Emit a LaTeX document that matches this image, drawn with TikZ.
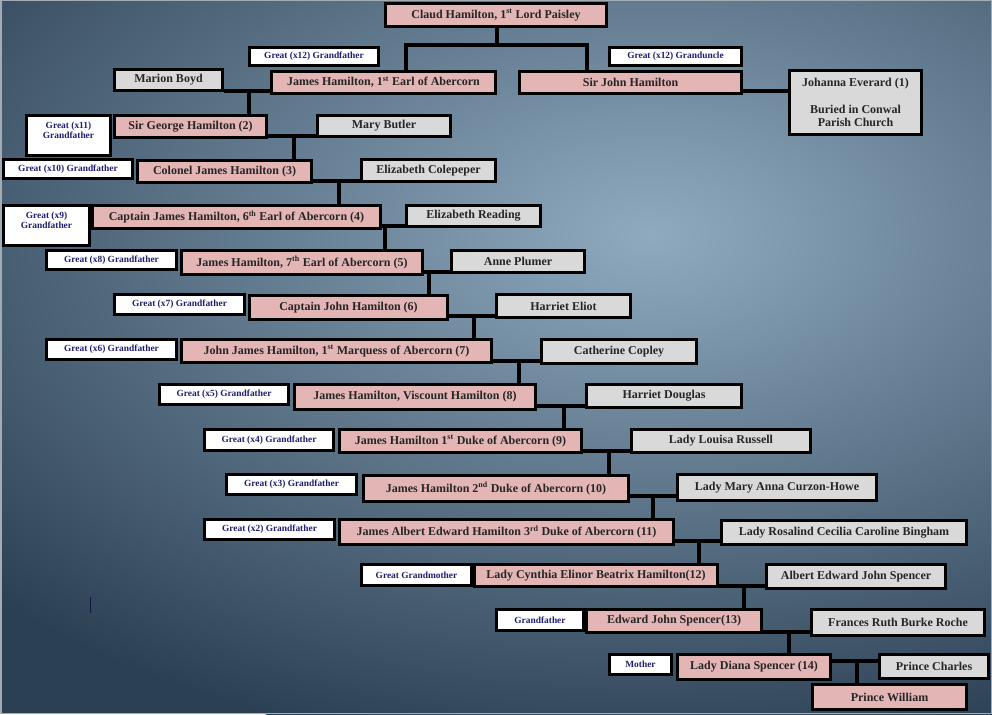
\documentclass[tikz,border=0pt]{standalone}
\usepackage{fontspec}
\setmainfont{Liberation Serif}
\definecolor{bgin}{HTML}{8FAABF}
\definecolor{bgout}{HTML}{2C4054}
\definecolor{pinkfill}{HTML}{E4B5B5}
\definecolor{grayfill}{HTML}{D9D9D9}
\definecolor{navy}{HTML}{1E1E70}
\definecolor{nametext}{HTML}{262626}
\definecolor{edgegray}{HTML}{A3ABB3}
\tikzset{
  basebox/.style={draw=black, line width=3pt, rectangle, inner sep=0pt, align=center},
  pinkbox/.style={basebox, fill=pinkfill, text=nametext, font=\bfseries\fontsize{12}{13.5}\selectfont},
  graybox/.style={basebox, fill=grayfill, text=nametext, font=\bfseries\fontsize{12}{13.5}\selectfont},
  labelbox/.style={basebox, fill=white, text=navy, font=\bfseries\fontsize{9.4}{10.5}\selectfont},
  link/.style={draw=black, line width=3.5pt},
}
\newcommand\bx[7]{\node[#6, minimum width={#4-#2-3}, minimum height={#5-#3-3}] (#1) at ({(#2+#4)/2},{(#3+#5)/2}) {#7};}
\newcommand\sx[1]{\textsuperscript{#1}}
\begin{document}
\begin{tikzpicture}[x=1pt,y=-1pt]
\useasboundingbox (0,0) rectangle (992,714);
% background
\begin{scope}
\clip (0,0) rectangle (992,714);
\fill[bgout] (0,0) rectangle (992,714);
\shade[inner color=bgin, outer color=bgout] (650,235) ellipse (900 and 530);
\end{scope}
\draw[edgegray, line width=1.5pt] (0.75,0.75) rectangle (991.25,713.25);
\draw[navy!60!black, line width=1pt] (90,597) -- (90,613);
% boxes
\bx{claud}{384}{2}{608}{28}{pinkbox}{Claud Hamilton, 1\sx{st} Lord Paisley}
\bx{gtwelve}{248}{46}{380}{67}{labelbox}{Great (x12) Grandfather}
\bx{jamesone}{270}{70}{497}{95}{pinkbox}{James Hamilton, 1\sx{st} Earl of Abercorn}
\bx{guncle}{608}{46}{743}{67}{labelbox}{Great (x12) Granduncle}
\bx{john}{518}{70}{743}{95}{pinkbox}{Sir John Hamilton}
\bx{johanna}{788}{69}{923}{136}{graybox}{Johanna Everard (1)\\[13.5pt]Buried in Conwal\\Parish Church}
\bx{marion}{113}{68}{224}{92}{graybox}{Marion Boyd}
\bx{geleven}{25}{114}{112}{157}{labelbox}{Great (x11)\\Grandfather\\\mbox{}}
\bx{george}{113}{114}{268}{139}{pinkbox}{Sir George Hamilton (2)}
\bx{mary}{316}{114}{452}{138}{graybox}{Mary Butler}
\bx{gten}{2}{158}{134}{180}{labelbox}{Great (x10) Grandfather}
\bx{colonel}{136}{159}{313}{184}{pinkbox}{Colonel James Hamilton (3)}
\bx{colepeper}{360}{158}{497}{183}{graybox}{Elizabeth Colepeper}
\bx{gnine}{2}{204}{91}{247}{labelbox}{Great (x9)\\Grandfather\\\mbox{}}
\bx{captain}{91}{204}{382}{230}{pinkbox}{Captain James Hamilton, 6\sx{th} Earl of Abercorn (4)}
\bx{reading}{405}{204}{542}{228}{graybox}{Elizabeth Reading}
\bx{geight}{45}{249}{178}{271}{labelbox}{Great (x8) Grandfather}
\bx{seventh}{180}{249}{424}{276}{pinkbox}{James Hamilton, 7\sx{th} Earl of Abercorn (5)}
\bx{anne}{450}{249}{586}{274}{graybox}{Anne Plumer}
\bx{gseven}{113}{293}{246}{316}{labelbox}{Great (x7) Grandfather}
\bx{capjohn}{248}{294}{449}{321}{pinkbox}{Captain John Hamilton (6)}
\bx{eliot}{495}{293}{632}{319}{graybox}{Harriet Eliot}
\bx{gsix}{45}{338}{178}{361}{labelbox}{Great (x6) Grandfather}
\bx{marquess}{180}{338}{493}{364}{pinkbox}{John James Hamilton, 1\sx{st} Marquess of Abercorn (7)}
\bx{copley}{540}{338}{698}{365}{graybox}{Catherine Copley}
\bx{gfive}{158}{383}{290}{406}{labelbox}{Great (x5) Grandfather}
\bx{viscount}{293}{383}{537}{411}{pinkbox}{James Hamilton, Viscount Hamilton (8)}
\bx{douglas}{585}{383}{743}{409}{graybox}{Harriet Douglas}
\bx{gfour}{203}{428}{335}{452}{labelbox}{Great (x4) Grandfather}
\bx{dukeone}{338}{428}{583}{454}{pinkbox}{James Hamilton 1\sx{st} Duke of Abercorn (9)}
\bx{louisa}{630}{428}{812}{454}{graybox}{Lady Louisa Russell}
\bx{gthree}{225}{473}{358}{496}{labelbox}{Great (x3) Grandfather}
\bx{duketwo}{362}{474}{630}{503}{pinkbox}{James Hamilton 2\sx{nd} Duke of Abercorn (10)}
\bx{curzon}{676}{473}{878}{502}{graybox}{Lady Mary Anna Curzon-Howe}
\bx{gtwo}{203}{518}{336}{541}{labelbox}{Great (x2) Grandfather}
\bx{dukethree}{338}{518}{675}{546}{pinkbox}{James Albert Edward Hamilton 3\sx{rd} Duke of Abercorn (11)}
\bx{rosalind}{720}{519}{968}{546}{graybox}{Lady Rosalind Cecilia Caroline Bingham}
\bx{ggm}{360}{563}{473}{587}{labelbox}{Great Grandmother}
\bx{cynthia}{473}{563}{719}{588}{pinkbox}{Lady Cynthia Elinor Beatrix Hamilton(12)}
\bx{albert}{765}{563}{947}{590}{graybox}{Albert Edward John Spencer}
\bx{gfather}{495}{608}{585}{632}{labelbox}{Grandfather}
\bx{edward}{585}{608}{763}{634}{pinkbox}{Edward John Spencer(13)}
\bx{frances}{810}{608}{986}{637}{graybox}{Frances Ruth Burke Roche}
\bx{mother}{608}{653}{673}{676}{labelbox}{Mother}
\bx{diana}{676}{653}{832}{681}{pinkbox}{Lady Diana Spencer (14)}
\bx{charles}{878}{653}{990}{680}{graybox}{Prince Charles}
\bx{william}{811}{683}{968}{711}{pinkbox}{Prince William}
% junctions
\coordinate (jtop) at (497,45);
\coordinate (jtl) at (406,45);
\coordinate (jtr) at (587,45);
\coordinate (jone) at (249,91);
\coordinate (jjoh) at (760,91);
\coordinate (jtwo) at (294,136);
\coordinate (jthree) at (339,181);
\coordinate (jfour) at (385,226);
\coordinate (jfive) at (429,272);
\coordinate (jsix) at (474,316);
\coordinate (jseven) at (519,361);
\coordinate (jeight) at (564,406);
\coordinate (jnine) at (609,451);
\coordinate (jten) at (653,496);
\coordinate (jeleven) at (699,541);
\coordinate (jtwelve) at (744,586);
\coordinate (jthirteen) at (789,632);
\coordinate (jfourteen) at (857,661);
% connectors
\draw[link] (claud.south -| jtop) -- (jtop);
\draw[link] (jamesone.north -| jtl) -- (jtl) -- (jtr) -- (john.north -| jtr);
\draw[link] (marion.east |- jone) -- (jamesone.west |- jone);
\draw[link] (jone) -- (george.north -| jone);
\draw[link] (john.east |- jjoh) -- (johanna.west |- jjoh);
\draw[link] (george.east |- jtwo) -- (mary.west |- jtwo);
\draw[link] (jtwo) -- (colonel.north -| jtwo);
\draw[link] (colonel.east |- jthree) -- (colepeper.west |- jthree);
\draw[link] (jthree) -- (captain.north -| jthree);
\draw[link] (captain.east |- jfour) -- (reading.west |- jfour);
\draw[link] (jfour) -- (seventh.north -| jfour);
\draw[link] (seventh.east |- jfive) -- (anne.west |- jfive);
\draw[link] (jfive) -- (capjohn.north -| jfive);
\draw[link] (capjohn.east |- jsix) -- (eliot.west |- jsix);
\draw[link] (jsix) -- (marquess.north -| jsix);
\draw[link] (marquess.east |- jseven) -- (copley.west |- jseven);
\draw[link] (jseven) -- (viscount.north -| jseven);
\draw[link] (viscount.east |- jeight) -- (douglas.west |- jeight);
\draw[link] (jeight) -- (dukeone.north -| jeight);
\draw[link] (dukeone.east |- jnine) -- (louisa.west |- jnine);
\draw[link] (jnine) -- (duketwo.north -| jnine);
\draw[link] (duketwo.east |- jten) -- (curzon.west |- jten);
\draw[link] (jten) -- (dukethree.north -| jten);
\draw[link] (dukethree.east |- jeleven) -- (rosalind.west |- jeleven);
\draw[link] (jeleven) -- (cynthia.north -| jeleven);
\draw[link] (cynthia.east |- jtwelve) -- (albert.west |- jtwelve);
\draw[link] (jtwelve) -- (edward.north -| jtwelve);
\draw[link] (edward.east |- jthirteen) -- (frances.west |- jthirteen);
\draw[link] (jthirteen) -- (diana.north -| jthirteen);
\draw[link] (diana.east |- jfourteen) -- (charles.west |- jfourteen);
\draw[link] (jfourteen) -- (william.north -| jfourteen);
\end{tikzpicture}
\end{document}
